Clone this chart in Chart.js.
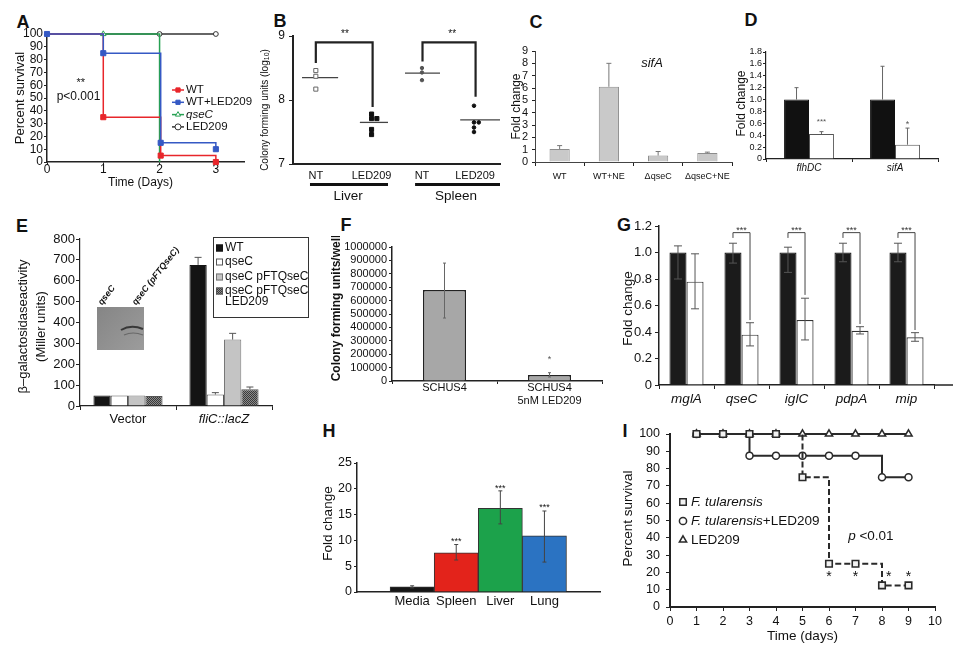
<!DOCTYPE html>
<html>
<head>
<meta charset="utf-8">
<script src="https://cdn.jsdelivr.net/npm/chart.js@4.4.1/dist/chart.umd.min.js"></script>
<style>
html, body { margin: 0; padding: 0; background: #fff; }
#fig { position: relative; width: 960px; height: 652px; overflow: hidden; font-family: "Liberation Sans", Arial, sans-serif; }
#fig canvas { position: absolute; }
.lt { position: absolute; font-weight: bold; font-size: 18px; line-height: 18px; transform: translate(-50%, -50%); color: #111; }
</style>
</head>
<body>
<div id="fig">
  <div class="lt" style="left:23px;top:22px">A</div>
  <div class="lt" style="left:280px;top:21px">B</div>
  <div class="lt" style="left:536px;top:22px">C</div>
  <div class="lt" style="left:751px;top:20px">D</div>
  <div class="lt" style="left:22px;top:226px">E</div>
  <div class="lt" style="left:346px;top:225px">F</div>
  <div class="lt" style="left:624px;top:225px">G</div>
  <div class="lt" style="left:329px;top:431px">H</div>
  <div class="lt" style="left:625px;top:431px">I</div>
</div>
<script>
// A: survival after infection (Days)
const aWT_t = [0, 1, 2.02, 3], aWT = [100, 35, 5, 0];
const aWTL_t = [0, 1, 2.02, 3], aWTL = [100, 85, 15, 10];
const aQse_t = [1, 2], aQse = [100, 0];
const aLED_t = [0, 2, 3], aLED = [100, 100, 100];

// B: colony forming units (log10)
const bTickPos = [1, 2.05, 3, 4];
const bTickLab = ['NT', 'LED209', 'NT', 'LED209'];
const bLivNT_x = [1, 1, 1], bLivNT = [8.46, 8.37, 8.17];
const bLivLED_x = [2.05, 2.05, 2.15, 2.05, 2.05], bLivLED = [7.78, 7.71, 7.71, 7.54, 7.46];
const bSplNT_x = [3, 3, 3], bSplNT = [8.5, 8.43, 8.31];
const bSplLED_x = [3.98, 3.98, 4.07, 3.98, 3.98], bSplLED = [7.91, 7.65, 7.65, 7.57, 7.5];
const bMean = [8.35, 7.65, 8.42, 7.69];
const bMeanFrom = [0.74, 1.83, 2.68, 3.72], bMeanTo = [1.42, 2.36, 3.34, 4.47];

// C: sifA
const cCats = ['WT', 'WT+NE', 'ΔqseC', 'ΔqseC+NE'];
const cVals = [1.05, 6.1, 0.52, 0.72];
const cErr = [1.33, 8.0, 0.85, 0.8];

// D
const dCats = ['flhDC', 'sifA'];
const dCtrl = [1.0, 1.0], dCtrlErr = [1.2, 1.56];
const dLed = [0.42, 0.24], dLedErr = [0.46, 0.52];

// E: beta-galactosidase
const eCats = ['Vector', 'fliC::lacZ'];
const eWT = [50, 676], eWTErr = [null, 712];
const eQse = [50, 55], eQseErr = [null, 64];
const eComp = [50, 318], eCompErr = [null, 348];
const eLed = [48, 80], eLedErr = [null, 91];

// F
const fCats = ['SCHUS4', ['SCHUS4', '5nM LED209']];
const fVals = [680000, 45000], fHi = [880000, 62000], fLo = [470000, 30000];

// G
const gGenes = ['mglA', 'qseC', 'iglC', 'pdpA', 'mip'];
const gCtrl = [1, 1, 1, 1, 1], gCtrlHi = [1.05, 1.07, 1.04, 1.07, 1.07], gCtrlLo = [0.8, 0.92, 0.85, 0.93, 0.93];
const gLed = [0.78, 0.38, 0.49, 0.41, 0.36], gLedHi = [0.99, 0.47, 0.655, 0.44, 0.395], gLedLo = [0.575, 0.295, 0.34, 0.385, 0.33];
const gSig = [1, 2, 3, 4], gSigEnd = [0.49, 0.68, 0.46, 0.415];

// H
const hSites = ['Media', 'Spleen', 'Liver', 'Lung'];
const hPos = [1, 2, 3, 4];
const hVals = [1.0, 7.6, 16.2, 10.9], hHi = [1.2, 9.2, 19.6, 15.7], hLo = [0.8, 6.2, 13.2, 5.8];
const hColors = ['#161616', '#e3231b', '#1ca24b', '#2b73c2'];

// I: survival (days)
const iDays = [1, 2, 3, 4, 5, 6, 7, 8, 9];
const iFt = [100, 100, 100, 100, 75, 25, 25, 12.5, 12.5];
const iFtLed = [100, 100, 87.5, 87.5, 87.5, 87.5, 87.5, 75, 75];
const iLed = [100, 100, 100, 100, 100, 100, 100, 100, 100];
const iStarDays = [6, 7, 8.25, 9];

const FF = '"Liberation Sans", Arial, Helvetica, sans-serif';
const fnt = (s, st) => (st || '') + ' ' + s + 'px ' + FF;
const xy = (xs, ys) => xs.map((x, i) => ({ x, y: ys[i] }));
const fig = document.getElementById('fig');
const specs = new Map();

function txt(ctx, s, x, y) {
  ctx.save();
  ctx.translate(x, y);
  if (s.rot) ctx.rotate(s.rot * Math.PI / 180);
  ctx.fillStyle = s.color || '#111';
  ctx.textBaseline = 'middle';
  ctx.textAlign = 'left';
  const parts = s.parts || [{ t: s.t }];
  let w = 0;
  parts.forEach(p => { ctx.font = p.f || s.f; w += ctx.measureText(p.t).width; });
  let cx = s.align === 'left' ? 0 : s.align === 'right' ? -w : -w / 2;
  parts.forEach(p => {
    ctx.font = p.f || s.f;
    ctx.fillText(p.t, cx, p.dy || 0);
    cx += ctx.measureText(p.t).width;
  });
  ctx.restore();
}

function mark(ctx, st, x, y, r, fill, stroke, lw) {
  ctx.beginPath();
  if (st === 'rect') { const s = r * Math.SQRT1_2; ctx.rect(x - s, y - s, 2 * s, 2 * s); }
  else if (st === 'triangle') { ctx.moveTo(x, y - r); ctx.lineTo(x + r * 0.866, y + r * 0.5); ctx.lineTo(x - r * 0.866, y + r * 0.5); ctx.closePath(); }
  else ctx.arc(x, y, r, 0, Math.PI * 2);
  ctx.fillStyle = fill; ctx.fill();
  ctx.lineWidth = lw; ctx.strokeStyle = stroke; ctx.stroke();
}

const deco = {
  id: 'deco',
  afterDatasetsDraw(chart) {
    const o = specs.get(chart.canvas) || {};
    const ctx = chart.ctx, ca = chart.chartArea, xs = chart.scales.x, ys = chart.scales.y;
    const X = v => xs.getPixelForValue(v), Y = v => ys.getPixelForValue(v);
    const EX = (d, i) => chart.getDatasetMeta(d).data[i].x;
    ctx.save();
    // error bars
    chart.data.datasets.forEach((ds, d) => {
      if (!ds.errHi) return;
      chart.getDatasetMeta(d).data.forEach((el, i) => {
        const hi = ds.errHi[i];
        if (hi == null) return;
        const lo = ds.errLo ? ds.errLo[i] : null;
        const v = typeof ds.data[i] === 'object' ? ds.data[i].y : ds.data[i];
        const cap = ds.errCap || 3;
        ctx.strokeStyle = ds.errColor || '#333';
        ctx.lineWidth = ds.errW || 1;
        ctx.beginPath();
        ctx.moveTo(el.x, Y(lo != null ? lo : v)); ctx.lineTo(el.x, Y(hi));
        ctx.moveTo(el.x - cap, Y(hi)); ctx.lineTo(el.x + cap, Y(hi));
        if (lo != null) { ctx.moveTo(el.x - cap, Y(lo)); ctx.lineTo(el.x + cap, Y(lo)); }
        ctx.stroke();
      });
    });
    // significance brackets
    (o.brackets || []).forEach(b => {
      const x1 = b.i != null ? EX(0, b.i) : X(b.x1);
      const x2 = b.i != null ? EX(1, b.i) : X(b.x2);
      ctx.strokeStyle = b.color || '#333';
      ctx.lineWidth = b.w || 1;
      ctx.beginPath();
      ctx.moveTo(x1, Y(b.y1)); ctx.lineTo(x1, Y(b.top)); ctx.lineTo(x2, Y(b.top)); ctx.lineTo(x2, Y(b.y2));
      ctx.stroke();
    });
    // group underlines
    (o.bars || []).forEach(b => {
      ctx.fillStyle = '#111';
      ctx.fillRect(X(b.x1), ca.bottom + b.dy, X(b.x2) - X(b.x1), b.h);
    });
    if (o.extend) {
      ctx.strokeStyle = '#222'; ctx.lineWidth = o.extend.w;
      ctx.beginPath(); ctx.moveTo(ca.right, ca.bottom); ctx.lineTo(ca.right + o.extend.len, ca.bottom); ctx.stroke();
    }
    if (o.draw) o.draw(ctx, ca);
    (o.texts || []).forEach(s => {
      const x = s.d != null ? EX(s.d, s.i) : s.x != null ? X(s.x) : ca.left + s.px;
      const y = s.y != null ? Y(s.y) : s.by != null ? ca.bottom + s.by : ca.top + s.py;
      txt(ctx, s, x, y);
    });
    (o.yt || []).forEach(s => txt(ctx, Object.assign({ rot: -90 }, s), ca.left - s.off, (ca.top + ca.bottom) / 2 + (s.dy || 0)));
    if (o.xt) txt(ctx, o.xt, (ca.left + ca.right) / 2 + (o.xt.dx || 0), ca.bottom + o.xt.off);
    const L = o.legend;
    if (L) {
      if (L.box) { ctx.strokeStyle = '#333'; ctx.lineWidth = 1; ctx.strokeRect(ca.left + L.box[0] + 0.5, ca.top + L.box[1] + 0.5, L.box[2], L.box[3]); }
      L.items.forEach((it, k) => {
        const ds = chart.data.datasets[it.d];
        const x = ca.left + L.x;
        const y = ca.top + (it.y != null ? it.y : L.y + k * L.dy);
        if (L.kind === 'line') {
          ctx.strokeStyle = ds.borderColor; ctx.lineWidth = ds.borderWidth;
          ctx.beginPath(); ctx.moveTo(x, y); ctx.lineTo(x + L.len, y); ctx.stroke();
          mark(ctx, ds.pointStyle, x + L.len / 2, y, L.r, ds.pointBackgroundColor, ds.pointBorderColor, 1);
        } else if (L.kind === 'marker') {
          mark(ctx, ds.pointStyle, x, y, it.r, ds.pointBackgroundColor, ds.pointBorderColor, 1.5);
        } else {
          ctx.fillStyle = ds.backgroundColor; ctx.fillRect(x, y - L.sw / 2, L.sw, L.sw);
          ctx.strokeStyle = ds.borderColor; ctx.lineWidth = 1; ctx.strokeRect(x + 0.5, y - L.sw / 2 + 0.5, L.sw - 1, L.sw - 1);
        }
        txt(ctx, { parts: it.parts, t: it.t || ds.label, f: it.f || L.f, align: 'left' }, x + L.tx, y);
        if (it.t2) txt(ctx, { t: it.t2, f: L.f, align: 'left' }, x + L.tx, y + 11);
      });
    }
    ctx.restore();
  }
};

function axis(o) {
  const a = {
    type: o.type || 'linear',
    offset: o.offset,
    ticks: { autoSkip: false, maxRotation: 0, minRotation: 0, color: '#111', padding: o.pad, includeBounds: false,
      font: o.font || { family: FF, size: o.fs, style: o.st || 'normal' } },
    grid: { display: o.tl > 0, drawOnChartArea: false, drawTicks: o.tl > 0, tickLength: o.tl, color: '#222', lineWidth: 1 },
    border: { display: true, color: o.bc || '#222', width: o.bw || 1.2 }
  };
  if (o.offset == null) delete a.offset;
  if (o.min != null) a.min = o.min;
  if (o.max != null) a.max = o.max;
  if (o.step != null) a.ticks.stepSize = o.step;
  if (o.cb) a.ticks.callback = o.cb;
  if (o.abt) a.afterBuildTicks = o.abt;
  return a;
}

function make(box, area, cfg, spec) {
  const c = document.createElement('canvas');
  c.width = box[2] - box[0]; c.height = box[3] - box[1];
  c.style.left = box[0] + 'px'; c.style.top = box[1] + 'px';
  fig.appendChild(c);
  specs.set(c, spec || {});
  const o = cfg.options;
  Object.assign(o, { responsive: false, animation: false, devicePixelRatio: 1, events: [],
    layout: { padding: { left: 0, top: area[1] - box[1], right: box[2] - area[2], bottom: 0 } } });
  o.plugins = { legend: { display: false }, tooltip: { enabled: false } };
  o.scales.x.afterFit = s => { s.height = box[3] - area[3]; };
  o.scales.y.afterFit = s => { s.width = area[0] - box[0]; };
  cfg.plugins = [deco];
  return new Chart(c, cfg);
}

const fix1 = v => (v === 0 ? '0' : v.toFixed(1));
const surv = (label, data, color, style, radii, order, extra) => Object.assign({
  label, data, showLine: true, stepped: true, borderColor: color, borderWidth: 1.5,
  pointStyle: style, pointRadius: radii, pointBorderColor: color, pointBorderWidth: 1,
  pointBackgroundColor: style === 'rect' ? color : '#fff', clip: false, order
}, extra || {});

// ---------- A ----------
make([0, 18, 252, 200], [47, 34, 244, 162], {
  type: 'scatter',
  data: { datasets: [
    surv('WT', xy(aWT_t, aWT), '#e8262b', 'rect', [0, 3.6, 3.6, 3.6], 1),
    surv('WT+LED209', xy(aWTL_t, aWTL), '#3559c4', 'rect', 3.6, 0),
    surv('qseC', xy(aQse_t, aQse), '#27a153', 'triangle', [3.2, 0], 2),
    surv('LED209', xy(aLED_t, aLED), '#333', 'circle', [0, 2.4, 2.4], 3)
  ] },
  options: { scales: {
    x: axis({ min: 0, max: 3.5, step: 1, fs: 12, tl: 3, pad: -3, bw: 1.5 }),
    y: axis({ min: 0, max: 100, step: 10, fs: 12, tl: 3, pad: 1, bw: 1.5 })
  } }
}, {
  texts: [{ x: 0.6, y: 62, t: '**', f: fnt(11) }, { x: 0.56, y: 51, t: 'p<0.001', f: fnt(12) }],
  yt: [{ t: 'Percent survival', f: fnt(13), off: 27 }],
  xt: { t: 'Time (Days)', f: fnt(12), off: 21, dx: -5 },
  legend: { kind: 'line', x: 125, y: 56, dy: 12.3, len: 12, tx: 14, r: 3, f: fnt(11.5),
    items: [{ d: 0 }, { d: 1 }, { d: 2, f: fnt(11.5, 'italic') }, { d: 3 }] }
});

// ---------- B ----------
const bPts = (xs, ys, style, r, fill, stroke) => ({ data: xy(xs, ys), pointStyle: style, pointRadius: r,
  pointBackgroundColor: fill, pointBorderColor: stroke, pointBorderWidth: 1, clip: false });
make([238, 18, 508, 205], [293, 36, 500, 164], {
  type: 'scatter',
  data: { datasets: [
    bPts(bLivNT_x, bLivNT, 'rect', 2.9, '#fff', '#666'),
    bPts(bLivLED_x, bLivLED, 'rect', 2.9, '#111', '#111'),
    bPts(bSplNT_x, bSplNT, 'circle', 1.7, '#555', '#555'),
    bPts(bSplLED_x, bSplLED, 'circle', 1.8, '#111', '#111')
  ].concat(bMean.map((m, k) => ({ data: [{ x: bMeanFrom[k], y: m }, { x: bMeanTo[k], y: m }], showLine: true,
    borderColor: '#444', borderWidth: 1.3, pointRadius: 0, clip: false }))) },
  options: { scales: {
    x: axis({ min: 0.57, max: 4.47, fs: 11, tl: 0, pad: 5, bw: 2,
      abt: s => { s.ticks = bTickPos.map(v => ({ value: v })); },
      cb: (v, i) => bTickLab[i] }),
    y: axis({ min: 7, max: 9, step: 1, fs: 12, tl: 4, pad: 4, bw: 2 })
  } }
}, {
  brackets: [{ x1: 1, y1: 8.58, top: 8.9, x2: 2.07, y2: 7.89, w: 2.2, color: '#222' },
             { x1: 3.01, y1: 8.6, top: 8.9, x2: 4.01, y2: 8.05, w: 2.2, color: '#222' }],
  texts: [{ x: 1.55, y: 9.02, t: '**', f: fnt(10) }, { x: 3.57, y: 9.02, t: '**', f: fnt(10) },
          { x: 1.61, by: 32, t: 'Liver', f: fnt(13.5) }, { x: 3.64, by: 32, t: 'Spleen', f: fnt(13.5) }],
  bars: [{ x1: 0.89, x2: 2.36, dy: 19, h: 3 }, { x1: 2.87, x2: 4.47, dy: 19, h: 3 }],
  yt: [{ parts: [{ t: 'Colony forming units (log' }, { t: '10', f: fnt(7), dy: 2 }, { t: ')' }], f: fnt(10), off: 28, dy: 10 }]
});

// ---------- C ----------
make([495, 36, 745, 185], [535, 51, 732, 162], {
  type: 'bar',
  data: { labels: cCats, datasets: [{ data: cVals, backgroundColor: '#c9c9c9', borderColor: '#8c8c8c', borderWidth: 1,
    barPercentage: 1, categoryPercentage: 0.41, errHi: cErr, errColor: '#777', errCap: 2.5 }] },
  options: { scales: {
    x: axis({ type: 'category', fs: 9, tl: 4, pad: 5, bw: 1, bc: '#444' }),
    y: axis({ min: 0, max: 9, step: 1, fs: 11, tl: 3, pad: 4, bw: 1, bc: '#444' })
  } }
}, {
  texts: [{ px: 117, py: 12, t: 'sifA', f: fnt(13, 'italic') }],
  yt: [{ t: 'Fold change', f: fnt(12), off: 18 }]
});

// ---------- D ----------
make([730, 36, 952, 185], [766, 52, 938, 159], {
  type: 'bar',
  data: { labels: dCats, datasets: [
    { data: dCtrl, backgroundColor: '#111', borderColor: '#111', borderWidth: 1, barPercentage: 1, categoryPercentage: 0.58,
      errHi: dCtrlErr, errColor: '#666', errCap: 2 },
    { data: dLed, backgroundColor: '#fff', borderColor: '#555', borderWidth: 1, barPercentage: 1, categoryPercentage: 0.58,
      errHi: dLedErr, errColor: '#666', errCap: 2 }
  ] },
  options: { scales: {
    x: axis({ type: 'category', fs: 10, st: 'italic', tl: 3, pad: 0, bw: 1.2 }),
    y: axis({ min: 0, max: 1.8, step: 0.2, fs: 9, tl: 3, pad: 1, bw: 1.2, cb: fix1 })
  } }
}, {
  texts: [{ d: 1, i: 0, y: 0.62, t: '***', f: fnt(8), color: '#555' }, { d: 1, i: 1, y: 0.58, t: '*', f: fnt(9), color: '#555' }],
  yt: [{ t: 'Fold change', f: fnt(12), off: 24, dy: -2 }]
});

// ---------- E ----------
function hatch() {
  const p = document.createElement('canvas');
  p.width = p.height = 4;
  const g = p.getContext('2d');
  g.fillStyle = '#8a8a8a'; g.fillRect(0, 0, 4, 4);
  g.fillStyle = '#3a3a3a';
  g.fillRect(0, 0, 1, 1); g.fillRect(2, 0, 1, 1); g.fillRect(1, 1, 1, 1); g.fillRect(3, 1, 1, 1);
  g.fillRect(0, 2, 1, 1); g.fillRect(2, 2, 1, 1); g.fillRect(1, 3, 1, 1); g.fillRect(3, 3, 1, 1);
  return g.createPattern(p, 'repeat');
}
const eBar = (label, data, err, bg, bc) => ({ label, data, backgroundColor: bg, borderColor: bc, borderWidth: 1,
  barPercentage: 1, categoryPercentage: 0.72, errHi: err, errColor: '#555', errCap: 3.5 });
make([0, 228, 318, 432], [80, 239, 272, 406], {
  type: 'bar',
  data: { labels: eCats, datasets: [
    eBar('WT', eWT, eWTErr, '#141414', '#141414'),
    eBar('qseC', eQse, eQseErr, '#fff', '#555'),
    eBar('qseC pFTQseC', eComp, eCompErr, '#c4c4c4', '#777'),
    eBar('qseC pFTQseC', eLed, eLedErr, hatch(), '#555')
  ] },
  options: { scales: {
    x: axis({ type: 'category', tl: 4, pad: 2, bw: 1.2,
      font: c => ({ family: FF, size: 13, style: c.index === 1 ? 'italic' : 'normal' }) }),
    y: axis({ min: 0, max: 800, step: 100, fs: 13, tl: 4, pad: 1, bw: 1.2 })
  } }
}, {
  yt: [{ t: 'β–galactosidaseactivity', f: fnt(13), off: 57, dy: 4 }, { t: '(Miller units)', f: fnt(13), off: 39, dy: 4 }],
  legend: { kind: 'swatch', box: [133, -2, 95, 80], x: 136, tx: 9, sw: 7, f: fnt(12),
    items: [{ d: 0, y: 9 }, { d: 1, y: 23 }, { d: 2, y: 38 }, { d: 3, y: 52, t2: 'LED209' }] },
  texts: [{ px: 20, py: 65, t: 'qseC', f: fnt(9, 'italic bold'), rot: -52, align: 'left' },
          { px: 54, py: 65, t: 'qseC (pFTQseC)', f: fnt(9, 'italic bold'), rot: -52, align: 'left' }],
  draw(ctx, ca) {
    const x = ca.left + 17, y = ca.top + 68, w = 47, h = 43;
    const g = ctx.createLinearGradient(x, y, x + w, y + h);
    g.addColorStop(0, '#858585'); g.addColorStop(1, '#9c9c9c');
    ctx.fillStyle = g; ctx.fillRect(x, y, w, h);
    ctx.strokeStyle = 'rgba(40,40,40,0.85)'; ctx.lineWidth = 2;
    ctx.beginPath(); ctx.moveTo(x + 24, y + 23); ctx.quadraticCurveTo(x + 34, y + 17, x + 46, y + 22); ctx.stroke();
    ctx.strokeStyle = 'rgba(60,60,60,0.5)'; ctx.lineWidth = 1.2;
    ctx.beginPath(); ctx.moveTo(x + 27, y + 28); ctx.quadraticCurveTo(x + 36, y + 24, x + 46, y + 28); ctx.stroke();
  }
});

// ---------- F ----------
make([318, 236, 612, 410], [392, 247, 602, 381], {
  type: 'bar',
  data: { labels: fCats, datasets: [{ data: fVals, backgroundColor: '#a7a7a7', borderColor: '#222', borderWidth: 1.5,
    barPercentage: 1, categoryPercentage: 0.41, errHi: fHi, errLo: fLo, errColor: '#666', errCap: 1.5 }] },
  options: { scales: {
    x: axis({ type: 'category', fs: 11, tl: 3, pad: -3, bw: 1.5 }),
    y: axis({ min: 0, max: 1000000, step: 100000, fs: 11, tl: 3, pad: 2, bw: 1.5, cb: v => String(v) })
  } }
}, {
  texts: [{ x: 1, y: 163000, t: '*', f: fnt(9), color: '#555' }],
  yt: [{ t: 'Colony forming units/well', f: fnt(12, 'bold'), off: 55, dy: -6 }]
});

// ---------- G ----------
const gBar = (data, hi, lo, bg, bc) => ({ data, backgroundColor: bg, borderColor: bc, borderWidth: 1.2,
  barPercentage: 1, categoryPercentage: 0.62, errHi: hi, errLo: lo, errColor: '#555', errCap: 4 });
make([605, 212, 960, 412], [659, 226, 934, 385], {
  type: 'bar',
  data: { labels: gGenes, datasets: [
    gBar(gCtrl, gCtrlHi, gCtrlLo, '#1b1b1b', '#1b1b1b'),
    gBar(gLed, gLedHi, gLedLo, '#fff', '#333')
  ] },
  options: { scales: {
    x: axis({ type: 'category', fs: 13.5, st: 'italic', tl: 4, pad: 2, bw: 1.5 }),
    y: axis({ min: 0, max: 1.2, step: 0.2, fs: 13, tl: 4, pad: 3, bw: 1.5, cb: fix1 })
  } }
}, {
  extend: { len: 19, w: 1.5 },
  brackets: gSig.map((i, k) => ({ i, y1: 1.11, top: 1.15, y2: gSigEnd[k], color: '#444', w: 1 })),
  texts: gSig.map(i => ({ x: i, y: 1.168, t: '***', f: fnt(9), color: '#333' })),
  yt: [{ t: 'Fold change', f: fnt(13.5), off: 31, dy: 3 }]
});

// ---------- H ----------
make([298, 452, 612, 618], [357, 463, 600, 592], {
  type: 'bar',
  data: { datasets: [{ data: xy(hPos, hVals), backgroundColor: hColors, borderColor: '#333', borderWidth: 1,
    barPercentage: 1, categoryPercentage: 1, errHi: hHi, errLo: hLo, errColor: '#444', errCap: 2 }] },
  options: { scales: {
    x: axis({ min: -0.25, max: 5.26, step: 1, fs: 13, tl: 0, pad: 2, bw: 1.5, offset: false,
      cb: v => hSites[hPos.indexOf(v)] || '' }),
    y: axis({ min: 0, max: 25, step: 5, fs: 12.5, tl: 3, pad: 2, bw: 1.5 })
  } }
}, {
  texts: [{ x: 2, y: 9.8, t: '***', f: fnt(9) }, { x: 3, y: 20.15, t: '***', f: fnt(9) }, { x: 4, y: 16.3, t: '***', f: fnt(9) }],
  yt: [{ t: 'Fold change', f: fnt(13.5), off: 29, dy: -4 }]
});

// ---------- I ----------
make([612, 420, 948, 652], [670, 434, 935, 607], {
  type: 'scatter',
  data: { datasets: [
    surv('F. tularensis', xy(iDays, iFt), '#2a2a2a', 'rect', 4.6, 0,
      { borderWidth: 2, pointBorderWidth: 1.6, pointBackgroundColor: '#f2f2f2',
        segment: { borderDash: c => (c.p1DataIndex >= 4 ? [6, 3] : undefined) } }),
    surv('F. tularensis+LED209', xy(iDays, iFtLed), '#2a2a2a', 'circle', 3.5, 1, { borderWidth: 2, pointBorderWidth: 1.5 }),
    surv('LED209', xy(iDays, iLed), '#2a2a2a', 'triangle', 4.2, 2, { borderWidth: 2, pointBorderWidth: 1.5 })
  ] },
  options: { scales: {
    x: axis({ min: 0, max: 10, step: 1, fs: 12.5, tl: 4, pad: 3.5, bw: 2 }),
    y: axis({ min: 0, max: 100, step: 10, fs: 12.5, tl: 4, pad: 6, bw: 2 })
  } }
}, {
  texts: iStarDays.map(x => ({ x, y: 17, t: '*', f: fnt(14) })).concat([
    { x: 7.58, y: 41, parts: [{ t: 'p', f: fnt(13.5, 'italic') }, { t: ' <0.01' }], f: fnt(13.5) }]),
  yt: [{ t: 'Percent survival', f: fnt(13.5), off: 42, dy: -2 }],
  xt: { t: 'Time (days)', f: fnt(13.5), off: 29 },
  legend: { kind: 'marker', x: 13, y: 68, dy: 19, tx: 8, f: fnt(13.5),
    items: [{ d: 0, r: 4.6, parts: [{ t: 'F. tularensis', f: fnt(13.5, 'italic') }] },
            { d: 1, r: 3.6, parts: [{ t: 'F. tularensis', f: fnt(13.5, 'italic') }, { t: '+LED209' }] },
            { d: 2, r: 4.2, t: 'LED209' }] }
});
</script>
</body>
</html>
